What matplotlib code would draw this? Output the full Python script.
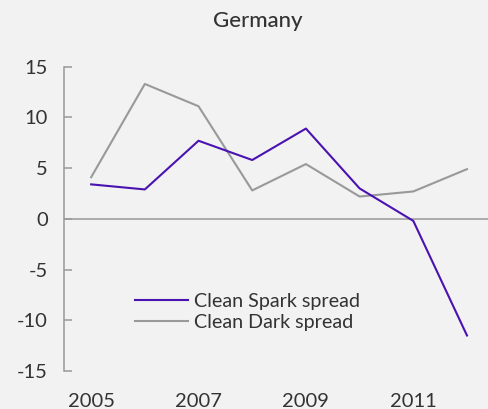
import numpy as np
import matplotlib
matplotlib.use("Agg")
import matplotlib.pyplot as plt

plt.rcParams['font.family'] = ['Lato', 'DejaVu Sans']

years = [2005, 2006, 2007, 2008, 2009, 2010, 2011, 2012]
spark = [3.4, 2.9, 7.7, 5.8, 8.9, 3.0, -0.2, -11.5]
dark = [4.1, 13.3, 11.1, 2.8, 5.4, 2.2, 2.7, 4.9]
xticks = [2005, 2007, 2009, 2011]
yticks = [-15, -10, -5, 0, 5, 10, 15]

bg = '#f2f2f2'
txt = '#333333'
grey = '#999999'
purple = '#4a12b0'

W, H = 489, 409
fig = plt.figure(figsize=(W / 100, H / 100), dpi=100, facecolor=bg)
ax = fig.add_axes([64.3 / W, 38 / H, (W - 64.3) / W, 304.3 / H])
ax.set_facecolor(bg)

ax.axhline(0, color=grey, lw=1.1, zorder=1)
ax.plot(years, spark, color=purple, lw=1.5, label='Clean Spark spread', zorder=3)
ax.plot(years, dark, color=grey, lw=1.5, label='Clean Dark spread', zorder=2)

ax.set_xlim(2004.5, 2012.41)
ax.set_ylim(-15, 15)
ax.set_xticks(xticks)
ax.set_yticks(yticks)
ax.set_yticklabels([str(v) for v in yticks])

for s in ['top', 'right', 'bottom']:
    ax.spines[s].set_visible(False)
ax.spines['left'].set_color(grey)
ax.spines['left'].set_linewidth(1.1)
ax.tick_params(axis='y', direction='in', length=5.5, width=1.1, color=grey,
               labelsize=14.5, labelcolor=txt, pad=12)
ax.tick_params(axis='x', length=0, labelsize=14.5, labelcolor=txt, pad=16)

fig.text(258 / W, 1 - 21 / H, 'Germany', ha='center', va='center',
         fontsize=16, color=txt, fontweight='medium')

leg = ax.legend(loc='center left', bbox_to_anchor=(0.149, 0.195), frameon=False,
                fontsize=14.2, handlelength=2.65, handletextpad=0.3,
                labelspacing=0.2, borderaxespad=0)
for t in leg.get_texts():
    t.set_color(txt)

fig.savefig('out.png', dpi=100, facecolor=bg)
